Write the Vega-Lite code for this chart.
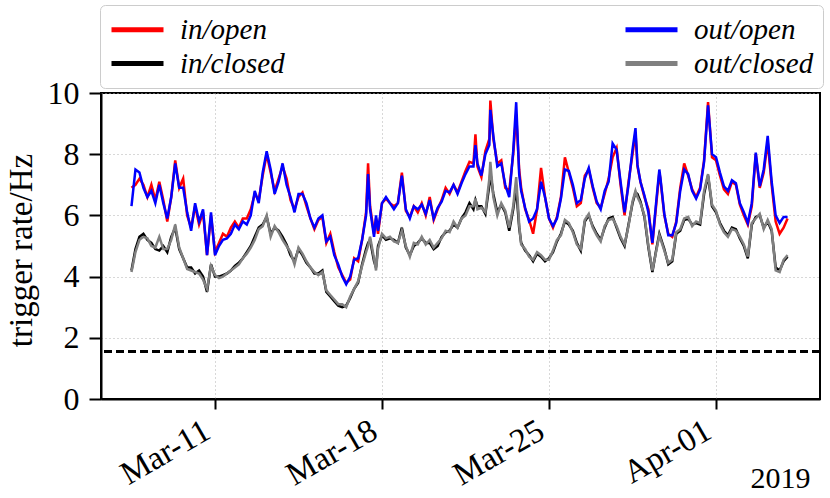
{
  "$schema": "https://vega.github.io/schema/vega-lite/v6.json",
  "width": 719,
  "height": 306,
  "autosize": "none",
  "padding": {"left": 101, "top": 93, "right": 10, "bottom": 99},
  "data": {"values": [
    {"t": "2019-03-07T12:00", "in_open": 6.9, "out_open": 6.3, "in_closed": 4.2, "out_closed": 4.15},
    {"t": "2019-03-07T16:00", "in_open": 7.0, "out_open": 7.5, "in_closed": 4.9, "out_closed": 4.8},
    {"t": "2019-03-07T20:00", "in_open": 7.2, "out_open": 7.4, "in_closed": 5.3, "out_closed": 5.2},
    {"t": "2019-03-08T00:00", "in_open": 7.0, "out_open": 6.9, "in_closed": 5.4, "out_closed": 5.3},
    {"t": "2019-03-08T04:00", "in_open": 6.6, "out_open": 6.6, "in_closed": 5.2, "out_closed": 5.25},
    {"t": "2019-03-08T08:00", "in_open": 7.0, "out_open": 6.8, "in_closed": 5.1, "out_closed": 5.0},
    {"t": "2019-03-08T12:00", "in_open": 6.5, "out_open": 6.4, "in_closed": 4.9, "out_closed": 4.95},
    {"t": "2019-03-08T16:00", "in_open": 7.1, "out_open": 7.0, "in_closed": 4.85, "out_closed": 5.3},
    {"t": "2019-03-08T20:00", "in_open": 6.5, "out_open": 6.4, "in_closed": 5.0, "out_closed": 4.9},
    {"t": "2019-03-09T00:00", "in_open": 5.8, "out_open": 5.9, "in_closed": 4.8, "out_closed": 4.9},
    {"t": "2019-03-09T04:00", "in_open": 6.6, "out_open": 6.6, "in_closed": 5.3, "out_closed": 5.2},
    {"t": "2019-03-09T08:00", "in_open": 7.8, "out_open": 7.7, "in_closed": 5.6, "out_closed": 5.7},
    {"t": "2019-03-09T12:00", "in_open": 6.9, "out_open": 6.9, "in_closed": 4.9, "out_closed": 4.95},
    {"t": "2019-03-09T16:00", "in_open": 7.2, "out_open": 6.9, "in_closed": 4.6, "out_closed": 4.6},
    {"t": "2019-03-09T20:00", "in_open": 6.0, "out_open": 6.1, "in_closed": 4.3, "out_closed": 4.25},
    {"t": "2019-03-10T00:00", "in_open": 5.6, "out_open": 5.5, "in_closed": 4.3, "out_closed": 4.2},
    {"t": "2019-03-10T04:00", "in_open": 6.3, "out_open": 6.4, "in_closed": 4.1, "out_closed": 4.15},
    {"t": "2019-03-10T08:00", "in_open": 5.7, "out_open": 5.8, "in_closed": 4.2, "out_closed": 4.1},
    {"t": "2019-03-10T12:00", "in_open": 6.1, "out_open": 6.2, "in_closed": 4.0, "out_closed": 3.9},
    {"t": "2019-03-10T16:00", "in_open": 4.7, "out_open": 4.7, "in_closed": 3.5, "out_closed": 3.6},
    {"t": "2019-03-10T20:00", "in_open": 6.0, "out_open": 6.1, "in_closed": 4.4, "out_closed": 4.35},
    {"t": "2019-03-11T00:00", "in_open": 4.8, "out_open": 4.7, "in_closed": 4.0, "out_closed": 4.05},
    {"t": "2019-03-11T04:00", "in_open": 5.1, "out_open": 5.0, "in_closed": 4.0, "out_closed": 3.95},
    {"t": "2019-03-11T08:00", "in_open": 5.4, "out_open": 5.2, "in_closed": 4.05, "out_closed": 4.0},
    {"t": "2019-03-11T12:00", "in_open": 5.3, "out_open": 5.25, "in_closed": 4.1, "out_closed": 4.1},
    {"t": "2019-03-11T16:00", "in_open": 5.6, "out_open": 5.4, "in_closed": 4.2, "out_closed": 4.2},
    {"t": "2019-03-11T20:00", "in_open": 5.8, "out_open": 5.7, "in_closed": 4.35, "out_closed": 4.3},
    {"t": "2019-03-12T00:00", "in_open": 5.6, "out_open": 5.55, "in_closed": 4.45, "out_closed": 4.4},
    {"t": "2019-03-12T04:00", "in_open": 5.9, "out_open": 5.8, "in_closed": 4.6, "out_closed": 4.6},
    {"t": "2019-03-12T08:00", "in_open": 5.9, "out_open": 5.7, "in_closed": 4.8, "out_closed": 4.75},
    {"t": "2019-03-12T12:00", "in_open": 6.2, "out_open": 6.0, "in_closed": 5.0, "out_closed": 4.95},
    {"t": "2019-03-12T16:00", "in_open": 6.7, "out_open": 6.8, "in_closed": 5.3, "out_closed": 5.2},
    {"t": "2019-03-12T20:00", "in_open": 6.5, "out_open": 6.4, "in_closed": 5.6, "out_closed": 5.55},
    {"t": "2019-03-13T00:00", "in_open": 7.3, "out_open": 7.4, "in_closed": 5.7, "out_closed": 5.65},
    {"t": "2019-03-13T04:00", "in_open": 8.0, "out_open": 8.1, "in_closed": 5.95, "out_closed": 6.0},
    {"t": "2019-03-13T08:00", "in_open": 7.4, "out_open": 7.5, "in_closed": 5.4, "out_closed": 5.3},
    {"t": "2019-03-13T12:00", "in_open": 6.8, "out_open": 6.7, "in_closed": 5.6, "out_closed": 5.65},
    {"t": "2019-03-13T16:00", "in_open": 7.2, "out_open": 7.1, "in_closed": 5.5, "out_closed": 5.45},
    {"t": "2019-03-13T20:00", "in_open": 7.6, "out_open": 7.7, "in_closed": 5.3, "out_closed": 5.2},
    {"t": "2019-03-14T00:00", "in_open": 7.2, "out_open": 7.0, "in_closed": 5.05, "out_closed": 5.0},
    {"t": "2019-03-14T04:00", "in_open": 6.5, "out_open": 6.6, "in_closed": 4.7, "out_closed": 4.8},
    {"t": "2019-03-14T08:00", "in_open": 6.2, "out_open": 6.1, "in_closed": 4.5, "out_closed": 4.4},
    {"t": "2019-03-14T12:00", "in_open": 6.6, "out_open": 6.7, "in_closed": 4.9, "out_closed": 4.95},
    {"t": "2019-03-14T16:00", "in_open": 6.75, "out_open": 6.7, "in_closed": 4.7, "out_closed": 4.75},
    {"t": "2019-03-14T20:00", "in_open": 6.3, "out_open": 6.4, "in_closed": 4.45, "out_closed": 4.5},
    {"t": "2019-03-15T00:00", "in_open": 5.9, "out_open": 5.9, "in_closed": 4.3, "out_closed": 4.3},
    {"t": "2019-03-15T04:00", "in_open": 5.55, "out_open": 5.6, "in_closed": 4.1, "out_closed": 4.15},
    {"t": "2019-03-15T08:00", "in_open": 5.85, "out_open": 5.9, "in_closed": 4.1, "out_closed": 4.05},
    {"t": "2019-03-15T12:00", "in_open": 5.95, "out_open": 6.0, "in_closed": 4.2, "out_closed": 4.15},
    {"t": "2019-03-15T16:00", "in_open": 5.1, "out_open": 5.15, "in_closed": 3.5, "out_closed": 3.55},
    {"t": "2019-03-15T20:00", "in_open": 5.4, "out_open": 5.3, "in_closed": 3.35, "out_closed": 3.4},
    {"t": "2019-03-16T00:00", "in_open": 4.8, "out_open": 4.7, "in_closed": 3.2, "out_closed": 3.25},
    {"t": "2019-03-16T04:00", "in_open": 4.3, "out_open": 4.4, "in_closed": 3.05, "out_closed": 3.1},
    {"t": "2019-03-16T08:00", "in_open": 4.05, "out_open": 4.0, "in_closed": 3.0, "out_closed": 3.1},
    {"t": "2019-03-16T12:00", "in_open": 3.8, "out_open": 3.75, "in_closed": 3.05, "out_closed": 3.0},
    {"t": "2019-03-16T16:00", "in_open": 3.9, "out_open": 4.0, "in_closed": 3.3, "out_closed": 3.35},
    {"t": "2019-03-16T20:00", "in_open": 4.6, "out_open": 4.55, "in_closed": 3.6, "out_closed": 3.6},
    {"t": "2019-03-17T00:00", "in_open": 4.5, "out_open": 4.6, "in_closed": 3.8, "out_closed": 3.85},
    {"t": "2019-03-17T04:00", "in_open": 5.2, "out_open": 5.2, "in_closed": 4.4, "out_closed": 4.35},
    {"t": "2019-03-17T08:00", "in_open": 6.1, "out_open": 6.0, "in_closed": 4.9, "out_closed": 4.8},
    {"t": "2019-03-17T10:00", "in_open": 7.7, "out_open": 7.35, "in_closed": 5.1, "out_closed": 5.0},
    {"t": "2019-03-17T12:00", "in_open": 6.3, "out_open": 6.2, "in_closed": 5.2, "out_closed": 5.3},
    {"t": "2019-03-17T16:00", "in_open": 5.4, "out_open": 5.3, "in_closed": 4.5, "out_closed": 4.6},
    {"t": "2019-03-17T18:00", "in_open": 5.9, "out_open": 6.0, "in_closed": 4.3, "out_closed": 4.2},
    {"t": "2019-03-17T20:00", "in_open": 5.4, "out_open": 5.5, "in_closed": 5.0, "out_closed": 4.9},
    {"t": "2019-03-18T00:00", "in_open": 6.4, "out_open": 6.4, "in_closed": 5.35, "out_closed": 5.4},
    {"t": "2019-03-18T04:00", "in_open": 6.55, "out_open": 6.6, "in_closed": 5.2, "out_closed": 5.25},
    {"t": "2019-03-18T08:00", "in_open": 6.4, "out_open": 6.4, "in_closed": 5.25, "out_closed": 5.3},
    {"t": "2019-03-18T12:00", "in_open": 6.3, "out_open": 6.2, "in_closed": 5.2, "out_closed": 5.15},
    {"t": "2019-03-18T16:00", "in_open": 6.4, "out_open": 6.4, "in_closed": 5.1, "out_closed": 5.1},
    {"t": "2019-03-18T20:00", "in_open": 7.4, "out_open": 7.3, "in_closed": 5.6, "out_closed": 5.5},
    {"t": "2019-03-19T00:00", "in_open": 6.15, "out_open": 6.2, "in_closed": 4.95, "out_closed": 5.0},
    {"t": "2019-03-19T04:00", "in_open": 5.95, "out_open": 5.9, "in_closed": 4.7, "out_closed": 4.65},
    {"t": "2019-03-19T08:00", "in_open": 6.3, "out_open": 6.3, "in_closed": 5.0, "out_closed": 5.1},
    {"t": "2019-03-19T12:00", "in_open": 6.1, "out_open": 6.2, "in_closed": 5.1, "out_closed": 5.05},
    {"t": "2019-03-19T16:00", "in_open": 6.4, "out_open": 6.35, "in_closed": 5.25, "out_closed": 5.3},
    {"t": "2019-03-19T20:00", "in_open": 6.0, "out_open": 6.05, "in_closed": 5.1, "out_closed": 5.05},
    {"t": "2019-03-20T00:00", "in_open": 6.6, "out_open": 6.5, "in_closed": 5.1, "out_closed": 5.2},
    {"t": "2019-03-20T04:00", "in_open": 5.85, "out_open": 5.9, "in_closed": 4.9, "out_closed": 4.95},
    {"t": "2019-03-20T08:00", "in_open": 6.2, "out_open": 6.25, "in_closed": 5.0, "out_closed": 5.1},
    {"t": "2019-03-20T12:00", "in_open": 6.5, "out_open": 6.45, "in_closed": 5.3, "out_closed": 5.25},
    {"t": "2019-03-20T16:00", "in_open": 6.9, "out_open": 6.8, "in_closed": 5.45, "out_closed": 5.5},
    {"t": "2019-03-20T20:00", "in_open": 6.7, "out_open": 6.75, "in_closed": 5.5, "out_closed": 5.45},
    {"t": "2019-03-21T00:00", "in_open": 7.0, "out_open": 7.0, "in_closed": 5.7, "out_closed": 5.8},
    {"t": "2019-03-21T04:00", "in_open": 6.75, "out_open": 6.7, "in_closed": 5.6, "out_closed": 5.6},
    {"t": "2019-03-21T08:00", "in_open": 7.1, "out_open": 7.05, "in_closed": 5.9, "out_closed": 5.9},
    {"t": "2019-03-21T12:00", "in_open": 7.45, "out_open": 7.35, "in_closed": 6.1, "out_closed": 6.0},
    {"t": "2019-03-21T16:00", "in_open": 7.75, "out_open": 7.6, "in_closed": 6.4, "out_closed": 6.3},
    {"t": "2019-03-21T20:00", "in_open": 7.7, "out_open": 7.6, "in_closed": 6.2, "out_closed": 6.3},
    {"t": "2019-03-21T22:00", "in_open": 8.65, "out_open": 8.3, "in_closed": 6.5, "out_closed": 6.55},
    {"t": "2019-03-22T00:00", "in_open": 7.6, "out_open": 7.7, "in_closed": 6.3, "out_closed": 6.2},
    {"t": "2019-03-22T04:00", "in_open": 7.25, "out_open": 7.3, "in_closed": 6.3, "out_closed": 6.25},
    {"t": "2019-03-22T08:00", "in_open": 8.1, "out_open": 8.0, "in_closed": 6.05, "out_closed": 6.1},
    {"t": "2019-03-22T12:00", "in_open": 8.5, "out_open": 8.3, "in_closed": 7.0, "out_closed": 7.2},
    {"t": "2019-03-22T13:00", "in_open": 9.75, "out_open": 9.45, "in_closed": 7.4, "out_closed": 7.75},
    {"t": "2019-03-22T16:00", "in_open": 8.5, "out_open": 8.6, "in_closed": 6.7, "out_closed": 6.6},
    {"t": "2019-03-22T20:00", "in_open": 7.7, "out_open": 7.6, "in_closed": 6.1, "out_closed": 6.0},
    {"t": "2019-03-23T00:00", "in_open": 7.8, "out_open": 7.7, "in_closed": 6.35, "out_closed": 6.4},
    {"t": "2019-03-23T04:00", "in_open": 6.9, "out_open": 7.0, "in_closed": 6.1, "out_closed": 6.15},
    {"t": "2019-03-23T08:00", "in_open": 6.8, "out_open": 6.6, "in_closed": 5.5, "out_closed": 5.6},
    {"t": "2019-03-23T12:00", "in_open": 8.0, "out_open": 8.1, "in_closed": 6.2, "out_closed": 6.3},
    {"t": "2019-03-23T15:00", "in_open": 9.3, "out_open": 9.7, "in_closed": 6.9, "out_closed": 7.25},
    {"t": "2019-03-23T18:00", "in_open": 7.5, "out_open": 7.35, "in_closed": 5.6, "out_closed": 5.7},
    {"t": "2019-03-23T20:00", "in_open": 6.9, "out_open": 6.8, "in_closed": 5.1, "out_closed": 5.05},
    {"t": "2019-03-24T00:00", "in_open": 6.2, "out_open": 6.25, "in_closed": 4.85, "out_closed": 4.9},
    {"t": "2019-03-24T04:00", "in_open": 5.85, "out_open": 5.8, "in_closed": 4.7, "out_closed": 4.65},
    {"t": "2019-03-24T08:00", "in_open": 5.4, "out_open": 5.9, "in_closed": 4.5, "out_closed": 4.55},
    {"t": "2019-03-24T12:00", "in_open": 6.2, "out_open": 6.2, "in_closed": 4.75, "out_closed": 4.8},
    {"t": "2019-03-24T16:00", "in_open": 7.55, "out_open": 7.1, "in_closed": 4.65, "out_closed": 4.7},
    {"t": "2019-03-24T20:00", "in_open": 6.6, "out_open": 6.6, "in_closed": 4.5, "out_closed": 4.55},
    {"t": "2019-03-25T00:00", "in_open": 5.9, "out_open": 5.9, "in_closed": 4.6, "out_closed": 4.55},
    {"t": "2019-03-25T04:00", "in_open": 5.6, "out_open": 5.65, "in_closed": 4.8, "out_closed": 4.85},
    {"t": "2019-03-25T08:00", "in_open": 5.95, "out_open": 5.9, "in_closed": 5.15, "out_closed": 5.2},
    {"t": "2019-03-25T12:00", "in_open": 6.6, "out_open": 6.55, "in_closed": 5.4, "out_closed": 5.35},
    {"t": "2019-03-25T16:00", "in_open": 7.9, "out_open": 7.5, "in_closed": 5.8, "out_closed": 5.85},
    {"t": "2019-03-25T20:00", "in_open": 7.4, "out_open": 7.45, "in_closed": 5.7, "out_closed": 5.75},
    {"t": "2019-03-26T00:00", "in_open": 6.9, "out_open": 7.0, "in_closed": 5.5, "out_closed": 5.45},
    {"t": "2019-03-26T04:00", "in_open": 6.3, "out_open": 6.4, "in_closed": 5.1, "out_closed": 5.05},
    {"t": "2019-03-26T08:00", "in_open": 6.4, "out_open": 6.5, "in_closed": 4.85, "out_closed": 4.9},
    {"t": "2019-03-26T12:00", "in_open": 7.3, "out_open": 7.2, "in_closed": 5.8, "out_closed": 5.85},
    {"t": "2019-03-26T16:00", "in_open": 7.5, "out_open": 7.55, "in_closed": 6.0, "out_closed": 6.05},
    {"t": "2019-03-26T20:00", "in_open": 6.9, "out_open": 6.95, "in_closed": 5.65, "out_closed": 5.6},
    {"t": "2019-03-27T00:00", "in_open": 6.4, "out_open": 6.45, "in_closed": 5.4, "out_closed": 5.35},
    {"t": "2019-03-27T04:00", "in_open": 6.25, "out_open": 6.2, "in_closed": 5.2, "out_closed": 5.15},
    {"t": "2019-03-27T08:00", "in_open": 6.7, "out_open": 6.8, "in_closed": 5.6, "out_closed": 5.65},
    {"t": "2019-03-27T12:00", "in_open": 7.2, "out_open": 7.1, "in_closed": 5.9, "out_closed": 5.85},
    {"t": "2019-03-27T16:00", "in_open": 7.9, "out_open": 8.35, "in_closed": 5.95, "out_closed": 5.9},
    {"t": "2019-03-27T20:00", "in_open": 8.2, "out_open": 8.15, "in_closed": 5.6, "out_closed": 5.65},
    {"t": "2019-03-28T00:00", "in_open": 7.0, "out_open": 7.1, "in_closed": 5.25, "out_closed": 5.3},
    {"t": "2019-03-28T04:00", "in_open": 6.0, "out_open": 6.1, "in_closed": 5.0, "out_closed": 5.05},
    {"t": "2019-03-28T08:00", "in_open": 7.1, "out_open": 7.0, "in_closed": 5.7, "out_closed": 5.65},
    {"t": "2019-03-28T12:00", "in_open": 8.0, "out_open": 8.15, "in_closed": 6.4, "out_closed": 6.45},
    {"t": "2019-03-28T15:00", "in_open": 8.7, "out_open": 8.85, "in_closed": 6.75, "out_closed": 6.8},
    {"t": "2019-03-28T17:00", "in_open": 7.6, "out_open": 7.65, "in_closed": 6.7, "out_closed": 6.6},
    {"t": "2019-03-28T20:00", "in_open": 7.1, "out_open": 7.1, "in_closed": 6.45, "out_closed": 6.4},
    {"t": "2019-03-29T00:00", "in_open": 6.6, "out_open": 6.65, "in_closed": 5.95, "out_closed": 6.0},
    {"t": "2019-03-29T04:00", "in_open": 6.2, "out_open": 6.1, "in_closed": 4.95, "out_closed": 5.0},
    {"t": "2019-03-29T08:00", "in_open": 5.05, "out_open": 5.1, "in_closed": 4.15, "out_closed": 4.2},
    {"t": "2019-03-29T12:00", "in_open": 6.4, "out_open": 6.5, "in_closed": 4.9, "out_closed": 4.85},
    {"t": "2019-03-29T15:00", "in_open": 7.4, "out_open": 7.5, "in_closed": 5.4, "out_closed": 5.35},
    {"t": "2019-03-29T16:00", "in_open": 7.2, "out_open": 7.25, "in_closed": 5.3, "out_closed": 5.25},
    {"t": "2019-03-29T20:00", "in_open": 6.0, "out_open": 6.05, "in_closed": 4.9, "out_closed": 4.85},
    {"t": "2019-03-30T00:00", "in_open": 5.4, "out_open": 5.35, "in_closed": 4.4, "out_closed": 4.45},
    {"t": "2019-03-30T04:00", "in_open": 5.3, "out_open": 5.35, "in_closed": 4.5, "out_closed": 4.55},
    {"t": "2019-03-30T08:00", "in_open": 5.8, "out_open": 5.75, "in_closed": 5.4, "out_closed": 5.45},
    {"t": "2019-03-30T12:00", "in_open": 6.9, "out_open": 6.8, "in_closed": 5.5, "out_closed": 5.55},
    {"t": "2019-03-30T16:00", "in_open": 7.7, "out_open": 7.5, "in_closed": 5.85, "out_closed": 5.9},
    {"t": "2019-03-30T20:00", "in_open": 7.3, "out_open": 7.35, "in_closed": 5.9, "out_closed": 5.95},
    {"t": "2019-03-31T00:00", "in_open": 6.85, "out_open": 6.8, "in_closed": 5.7, "out_closed": 5.65},
    {"t": "2019-03-31T04:00", "in_open": 6.6, "out_open": 6.55, "in_closed": 5.75, "out_closed": 5.8},
    {"t": "2019-03-31T08:00", "in_open": 6.9, "out_open": 6.85, "in_closed": 5.7, "out_closed": 5.75},
    {"t": "2019-03-31T12:00", "in_open": 7.8, "out_open": 7.75, "in_closed": 6.7, "out_closed": 6.8},
    {"t": "2019-03-31T16:00", "in_open": 9.7, "out_open": 9.6, "in_closed": 7.3, "out_closed": 7.35},
    {"t": "2019-03-31T20:00", "in_open": 7.9, "out_open": 8.0, "in_closed": 6.3, "out_closed": 6.35},
    {"t": "2019-04-01T00:00", "in_open": 7.8, "out_open": 7.9, "in_closed": 6.1, "out_closed": 6.15},
    {"t": "2019-04-01T04:00", "in_open": 7.3, "out_open": 7.4, "in_closed": 5.75, "out_closed": 5.7},
    {"t": "2019-04-01T08:00", "in_open": 6.85, "out_open": 6.95, "in_closed": 5.5, "out_closed": 5.45},
    {"t": "2019-04-01T12:00", "in_open": 6.7, "out_open": 6.8, "in_closed": 5.35, "out_closed": 5.3},
    {"t": "2019-04-01T16:00", "in_open": 7.1, "out_open": 7.15, "in_closed": 5.6, "out_closed": 5.55},
    {"t": "2019-04-01T20:00", "in_open": 7.0, "out_open": 7.05, "in_closed": 5.55, "out_closed": 5.5},
    {"t": "2019-04-02T00:00", "in_open": 6.35, "out_open": 6.4, "in_closed": 5.25, "out_closed": 5.3},
    {"t": "2019-04-02T04:00", "in_open": 6.0, "out_open": 6.1, "in_closed": 5.0, "out_closed": 5.05},
    {"t": "2019-04-02T08:00", "in_open": 5.7, "out_open": 5.75, "in_closed": 4.6, "out_closed": 4.65},
    {"t": "2019-04-02T12:00", "in_open": 6.3, "out_open": 6.4, "in_closed": 5.7, "out_closed": 5.75},
    {"t": "2019-04-02T16:00", "in_open": 8.0, "out_open": 8.05, "in_closed": 5.95, "out_closed": 5.9},
    {"t": "2019-04-02T20:00", "in_open": 6.9, "out_open": 6.95, "in_closed": 6.0, "out_closed": 6.05},
    {"t": "2019-04-03T00:00", "in_open": 7.4, "out_open": 7.5, "in_closed": 5.6, "out_closed": 5.55},
    {"t": "2019-04-03T04:00", "in_open": 8.4, "out_open": 8.6, "in_closed": 5.8, "out_closed": 5.85},
    {"t": "2019-04-03T08:00", "in_open": 7.0, "out_open": 7.1, "in_closed": 5.5, "out_closed": 5.55},
    {"t": "2019-04-03T12:00", "in_open": 5.8, "out_open": 6.0, "in_closed": 4.3, "out_closed": 4.2},
    {"t": "2019-04-03T16:00", "in_open": 5.4, "out_open": 5.75, "in_closed": 4.2, "out_closed": 4.15},
    {"t": "2019-04-03T20:00", "in_open": 5.6, "out_open": 5.95, "in_closed": 4.5, "out_closed": 4.55},
    {"t": "2019-04-04T00:00", "in_open": 5.9, "out_open": 5.95, "in_closed": 4.65, "out_closed": 4.7}
  ]},
  "encoding": {
    "x": {
      "field": "t",
      "type": "temporal",
      "scale": {"domain": [
        {"year": 2019, "month": 3, "date": 6, "hours": 5, "minutes": 20},
        {"year": 2019, "month": 4, "date": 5, "hours": 8, "minutes": 37}
      ]},
      "axis": {
        "values": [
          {"year": 2019, "month": 3, "date": 11},
          {"year": 2019, "month": 3, "date": 18},
          {"year": 2019, "month": 3, "date": 25},
          {"year": 2019, "month": 4, "date": 1}
        ],
        "format": "%b-%d",
        "labelAngle": -30,
        "labelAlign": "right",
        "labelBaseline": "top",
        "labelFontSize": 33,
        "labelPadding": 5,
        "labelOffset": -16,
        "labelOverlap": false,
        "tickSize": 10,
        "title": "2019",
        "titleFontSize": 30,
        "titleAnchor": "end",
        "titleAlign": "right",
        "titleBaseline": "alphabetic",
        "titleX": 709,
        "titleY": 88
      }
    },
    "y": {
      "type": "quantitative",
      "scale": {"domain": [0, 10]},
      "axis": {
        "values": [0, 2, 4, 6, 8, 10],
        "tickSize": 12,
        "labelPadding": 10,
        "labelFontSize": 32,
        "title": "trigger rate/Hz",
        "titleFontSize": 33,
        "titleAngle": -90,
        "titleAlign": "center",
        "titleBaseline": "alphabetic",
        "titleX": -70,
        "titleY": 157
      }
    }
  },
  "layer": [
    {
      "mark": {"type": "line", "strokeWidth": 2.5},
      "encoding": {
        "y": {"field": "in_open", "type": "quantitative"},
        "color": {
          "datum": "in/open",
          "scale": {
            "domain": ["in/open", "out/open", "in/closed", "out/closed"],
            "range": ["#ff0000", "#0000ff", "#000000", "#808080"]
          },
          "legend": {
            "orient": "none",
            "legendX": -1,
            "legendY": -88,
            "columns": 2,
            "direction": "horizontal",
            "title": null,
            "symbolType": "M-1,0H3",
            "symbolSize": 676,
            "symbolStrokeWidth": 5,
            "labelFontStyle": "italic",
            "labelFontSize": 29,
            "labelColor": "black",
            "labelOffset": 40,
            "columnPadding": 330,
            "rowPadding": 3,
            "padding": 9,
            "strokeColor": "#cccccc",
            "fillColor": "white",
            "cornerRadius": 5
          }
        }
      }
    },
    {
      "mark": {"type": "line", "strokeWidth": 2.5},
      "encoding": {
        "y": {"field": "out_open", "type": "quantitative"},
        "color": {"datum": "out/open"}
      }
    },
    {
      "mark": {"type": "line", "strokeWidth": 2.5},
      "encoding": {
        "y": {"field": "in_closed", "type": "quantitative"},
        "color": {"datum": "in/closed"}
      }
    },
    {
      "mark": {"type": "line", "strokeWidth": 2.5},
      "encoding": {
        "y": {"field": "out_closed", "type": "quantitative"},
        "color": {"datum": "out/closed"}
      }
    },
    {
      "mark": {"type": "rule", "color": "black", "strokeWidth": 3, "strokeDash": [8, 4]},
      "encoding": {
        "x": null,
        "y": {"datum": 1.55}
      }
    }
  ],
  "config": {
    "font": "Liberation Serif",
    "view": {"stroke": "black", "strokeWidth": 2},
    "axis": {
      "labelColor": "black",
      "titleFontWeight": "normal",
      "titleColor": "black",
      "domainColor": "black",
      "domainWidth": 2,
      "tickColor": "black",
      "tickWidth": 2,
      "gridColor": "#b0b0b0",
      "gridDash": [1, 3],
      "gridWidth": 1
    }
  }
}
